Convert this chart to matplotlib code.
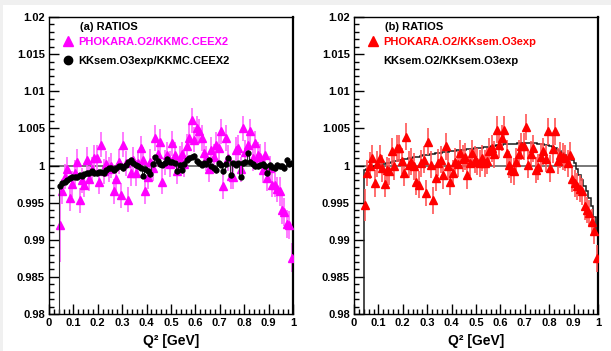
import numpy as np
import matplotlib
matplotlib.use("Agg")
import matplotlib.pyplot as plt  # noqa: E402
from matplotlib.patches import Rectangle  # noqa: E402
from matplotlib.ticker import MultipleLocator, FuncFormatter  # noqa: E402

# Q^2 binning: 96 bins of 0.01 GeV from 0.04 to 1.0
BIN_EDGES = np.round(np.arange(0.04, 1.0001, 0.01), 3)
Q2 = 0.5 * (BIN_EDGES[:-1] + BIN_EDGES[1:])

# deviations from 1, in units of 1e-3
PHOKARA_KKMC = [
    -8.0, -3.5, -1.5, -0.5, -4.4, -2.5, -1.0, 0.5, -4.7, -2.0,
    -2.6, 0.8, -1.8, -0.5, 1.0, 1.0, -2.2, 2.8, -0.8, 0.2,
    -0.5, 0.0, -3.5, -1.8, 0.5, -4.0, 2.8, 0.3, -4.6, -1.0,
    0.8, -1.0, 0.4, 2.3, 0.8, -3.5, -1.5, 0.5, -0.4, 3.7,
    1.5, 3.2, -2.2, 0.4, 1.4, 0.2, 3.0, 1.4, -0.8, 0.9,
    1.5, 0.2, 2.6, 3.7, 6.1, 3.5, 5.0, 4.6, 3.7, 1.7,
    0.9, -0.5, 2.1, 1.2, 2.8, 2.3, 4.6, -2.8, 3.7, 1.0,
    -1.4, -1.5, 2.1, 2.4, -0.5, 5.0, 1.8, 2.8, 4.6, 1.0,
    3.0, 1.4, 1.2, -0.6, 1.4, -1.7, -0.4, -2.6, -2.6, -3.2,
    -3.5, -6.0, -6.3, -7.9, -8.0, -12.4,
]
PHOKARA_KKMC_ERR = [5.0] + [1.7] * 89 + [1.9] * 6

KKSEM_O3_KKMC = [
    -2.7, -2.4, -2.2, -2.0, -1.7, -1.5, -1.5, -1.6, -1.3, -1.4,
    -1.2, -1.0, -1.0, -0.8, -1.0, -1.0, -0.9, -0.9, -1.0, -0.6,
    -0.4, -0.3, -0.6, -0.4, -0.1, -0.1, -0.4, 0.1, 0.5, 0.8,
    0.3, 0.1, -0.1, -0.3, -1.4, -0.5, -0.7, -1.2, 0.2, 1.1,
    0.6, 0.2, 0.1, 0.4, 0.9, 0.5, 0.5, 0.3, -0.8, 0.1,
    -0.6, 0.2, 0.8, 1.0, 1.2, 1.3, 0.6, 0.4, 0.1, 0.3,
    0.2, 0.8, -0.1, -0.3, -0.6, 0.3, 0.1, -0.8, 0.2, 1.0,
    -1.3, 0.3, 0.1, 0.3, -1.5, 0.3, 0.5, 1.7, 0.5, 0.2,
    -0.1, -0.1, 0.1, 0.2, -0.1, -1.0, 0.1, -0.2, -0.4, 0.1,
    -0.1, 0.0, -0.4, 0.8, 0.2, 0.4,
]
KKSEM_O3_KKMC_ERR = [0.35] * 96

PHOKARA_KKSEM = [
    -5.3, -1.0, 0.0, 1.0, -2.4, 0.2, 1.0, -0.4, -2.5, -0.6,
    -0.8, 1.9, -0.1, 2.3, 2.3, 0.6, -1.0, 3.9, 0.1, 0.5,
    -0.1, -2.2, -2.6, 0.3, 0.8, -3.7, 3.2, 0.1, -4.7, -1.7,
    0.4, 0.8, -1.3, 2.6, -0.1, -2.2, -1.0, 0.5, 0.2, 1.7,
    0.9, 1.2, -1.3, 0.4, 1.7, 0.8, 0.5, 0.3, 1.0, 0.3,
    0.6, 1.9, 2.3, 1.5, 4.8, 2.8, 3.7, 4.8, 1.7, 0.1,
    -0.6, -0.8, 0.5, 1.6, 2.6, 2.6, 5.2, 0.1, 1.5, 2.3,
    -0.6, -0.2, 1.2, 1.9, 0.9, 4.6, -0.4, 2.2, 4.6, 0.6,
    1.4, 1.2, 1.0, 0.3, 1.4, -1.8, -2.4, -2.8, -3.1, -3.5,
    -5.5, -6.0, -6.4, -7.6, -8.8, -12.5,
]
PHOKARA_KKSEM_ERR = [2.2] + [1.8] * 95

KKSEM_O2_O3 = [
    -0.6, -0.5, -0.35, -0.25, -0.1, 0.0, 0.1, 0.2, 0.25, 0.35,
    0.4, 0.5, 0.55, 0.65, 0.7, 0.8, 0.85, 0.9, 1.0, 1.05,
    1.1, 1.15, 1.2, 1.3, 1.35, 1.4, 1.45, 1.5, 1.6, 1.65,
    1.7, 1.75, 1.8, 1.85, 1.85, 1.9, 1.95, 2.0, 2.05, 2.05,
    2.1, 2.15, 2.2, 2.2, 2.25, 2.3, 2.35, 2.4, 2.4, 2.45,
    2.5, 2.55, 2.6, 2.65, 2.7, 2.75, 2.8, 2.85, 2.85, 2.9,
    2.9, 2.95, 2.95, 3.0, 3.0, 3.0, 3.0, 3.0, 3.0, 3.0,
    3.0, 2.95, 2.95, 2.9, 2.8, 2.7, 2.6, 2.45, 2.3, 2.1,
    1.9, 1.65, 1.4, 1.2, 1.0, 0.7, 0.3, -0.5, -1.3, -2.0,
    -2.7, -3.5, -4.4, -5.4, -7.0, -9.0,
]

YMIN, YMAX = 0.98, 1.02

plt.rcParams["font.family"] = ["Liberation Sans", "DejaVu Sans"]
plt.rcParams["font.weight"] = "bold"


def ratio(dev):
    return 1.0 + np.asarray(dev) * 1e-3


def style(ax):
    ax.set_xlim(0, 1)
    ax.set_ylim(YMIN, YMAX)
    ax.xaxis.set_major_locator(MultipleLocator(0.1))
    ax.xaxis.set_minor_locator(MultipleLocator(0.02))
    ax.yaxis.set_major_locator(MultipleLocator(0.005))
    ax.yaxis.set_minor_locator(MultipleLocator(0.001))
    fmt = FuncFormatter(lambda v, _: f"{v:g}")
    ax.xaxis.set_major_formatter(fmt)
    ax.yaxis.set_major_formatter(fmt)
    ax.tick_params(which="both", direction="in", top=False, right=False,
                   labelsize=8, width=1, pad=3)
    ax.tick_params(which="major", length=7)
    ax.tick_params(which="minor", length=3.5)
    for s in ax.spines.values():
        s.set_linewidth(1.0)
    ax.spines["right"].set_linewidth(1.6)
    ax.axhline(1.0, color="#777777", lw=1.4, zorder=1.5)
    ax.set_xlabel("Q² [GeV]", fontsize=10, fontweight="bold", labelpad=4)


def add_key(ax, title, handles, labels, colors):
    ax.text(0.127, 0.967, title, transform=ax.transAxes,
            fontsize=8, fontweight="bold", va="center", ha="left")
    ax.legend(handles, labels, loc="upper left", bbox_to_anchor=(0.055, 0.934),
              frameon=False, borderpad=0, borderaxespad=0, handlelength=1.0,
              handletextpad=0.45, labelspacing=0.85,
              prop={"size": 8, "weight": "bold"}, labelcolor=colors)


fig = plt.figure(figsize=(6.11, 3.51), dpi=100, facecolor="white")
# light grey border strips along the top and left edge of the canvas
fig.patches.append(Rectangle((0, 1 - 5 / 351), 1, 5 / 351,
                             transform=fig.transFigure, facecolor="#f0f0f0",
                             edgecolor="none", zorder=-10))
fig.patches.append(Rectangle((0, 0), 3 / 611, 1,
                             transform=fig.transFigure, facecolor="#f0f0f0",
                             edgecolor="none", zorder=-10))

ax_a = fig.add_axes([49 / 611, 37 / 351, 244 / 611, 297 / 351])
ax_b = fig.add_axes([354 / 611, 37 / 351, 244 / 611, 297 / 351])

# (a) PHOKARA/KKMC and KKsem.O3exp/KKMC
style(ax_a)
ax_a.errorbar(Q2, ratio(PHOKARA_KKMC), yerr=np.asarray(PHOKARA_KKMC_ERR) * 1e-3,
              fmt="none", ecolor="#ff66ff", elinewidth=1.2, zorder=2)
ax_a.plot(Q2, ratio(PHOKARA_KKMC), ls="none", marker="^", ms=5.5,
          color="#ff00ff", mec="#ff00ff", zorder=3)
ax_a.stairs(ratio(KKSEM_O3_KKMC), BIN_EDGES, baseline=YMIN, color="#303030",
            lw=0.8, zorder=3.5)
ax_a.errorbar(Q2, ratio(KKSEM_O3_KKMC), yerr=np.asarray(KKSEM_O3_KKMC_ERR) * 1e-3,
              fmt="o", ms=3.5, color="black", ecolor="#333333", elinewidth=1,
              zorder=4)
add_key(ax_a, "(a) RATIOS",
        [plt.Line2D([], [], ls="none", marker="^", ms=6.5, color="#ff00ff"),
         plt.Line2D([], [], ls="none", marker="o", ms=6, color="black")],
        ["PHOKARA.O2/KKMC.CEEX2", "KKsem.O3exp/KKMC.CEEX2"],
        ["#ff00ff", "black"])

# (b) PHOKARA/KKsem.O3exp and KKsem.O2/KKsem.O3exp
style(ax_b)
ax_b.stairs(ratio(KKSEM_O2_O3), BIN_EDGES, baseline=YMIN, color="#1a1a1a",
            lw=1.1, zorder=2.5)
ax_b.errorbar(Q2, ratio(PHOKARA_KKSEM), yerr=np.asarray(PHOKARA_KKSEM_ERR) * 1e-3,
              fmt="none", ecolor="#ff5555", elinewidth=1.2, zorder=3)
ax_b.plot(Q2, ratio(PHOKARA_KKSEM), ls="none", marker="^", ms=5.5,
          color="#ff0000", zorder=4)
add_key(ax_b, "(b) RATIOS",
        [plt.Line2D([], [], ls="none", marker="^", ms=6.5, color="#ff0000"),
         plt.Line2D([], [], ls="none")],
        ["PHOKARA.O2/KKsem.O3exp", "KKsem.O2/KKsem.O3exp"],
        ["#ff0000", "black"])

fig.savefig("out.png", dpi=100)
